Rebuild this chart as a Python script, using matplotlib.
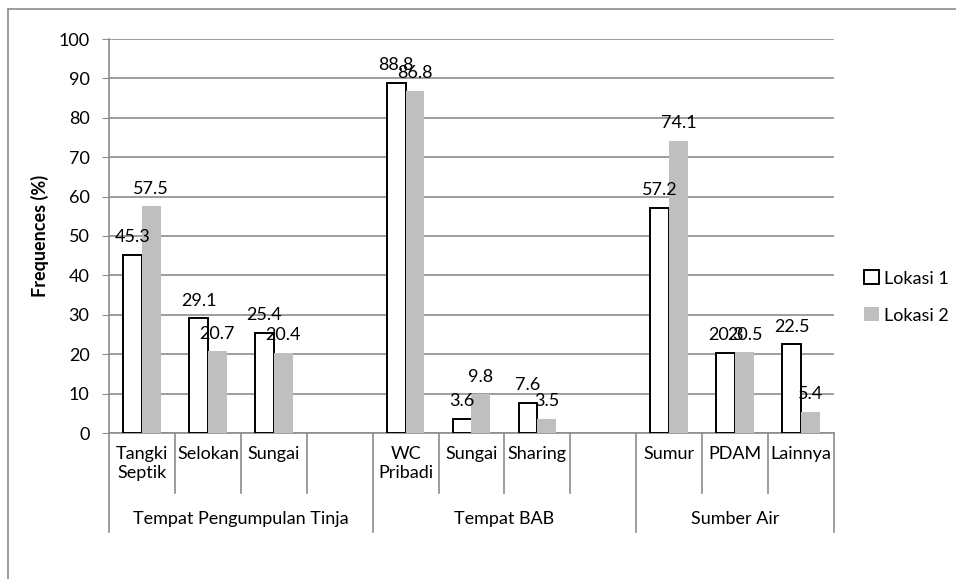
import matplotlib
matplotlib.use('Agg')
import matplotlib.pyplot as plt
from matplotlib.patches import Patch
from matplotlib.lines import Line2D

plt.rcParams['font.family'] = ['Lato', 'DejaVu Sans']

categories = ['Tangki\nSeptik', 'Selokan', 'Sungai', '',
              'WC\nPribadi', 'Sungai', 'Sharing', '',
              'Sumur', 'PDAM', 'Lainnya']
groups = ['Tempat Pengumpulan Tinja', 'Tempat BAB', 'Sumber Air']
group_sizes = [4, 4, 3]
lokasi1 = [45.3, 29.1, 25.4, None, 88.8, 3.6, 7.6, None, 57.2, 20.3, 22.5]
lokasi2 = [57.5, 20.7, 20.4, None, 86.8, 9.8, 3.5, None, 74.1, 20.5, 5.4]
series_names = ['Lokasi 1', 'Lokasi 2']

W, H = 956, 579
fig = plt.figure(figsize=(W / 100, H / 100), dpi=100)

# plot area in pixels
left, right, top, bottom = 109, 834, 39, 433
ax = fig.add_axes([left / W, 1 - bottom / H, (right - left) / W, (bottom - top) / H])
ax_h = bottom - top

grid_col = '#8c8c8c'
bw = 0.285
fs = 13

for i, (a, b) in enumerate(zip(lokasi1, lokasi2)):
    if a is not None:
        ax.bar(i - bw / 2, a, width=bw, color='white', edgecolor='black',
               linewidth=1.4, zorder=3)
        ax.annotate(f'{a}', (i - bw / 2, a), xytext=(0, 7), textcoords='offset points',
                    ha='center', va='bottom', fontsize=fs, zorder=4)
    if b is not None:
        ax.bar(i + bw / 2, b, width=bw, color='#bfbfbf', linewidth=0, zorder=3)
        ax.annotate(f'{b}', (i + bw / 2, b), xytext=(0, 7), textcoords='offset points',
                    ha='center', va='bottom', fontsize=fs, zorder=4)

ax.set_xlim(-0.5, len(categories) - 0.5)
ax.set_ylim(0, 100)
ax.set_yticks(range(0, 101, 10))
ax.yaxis.grid(True, color=grid_col, linewidth=1.2)
ax.set_axisbelow(True)
ax.set_xticks([])
ax.tick_params(axis='y', length=5, color=grid_col, labelsize=fs, pad=9)
for s in ['top', 'right']:
    ax.spines[s].set_visible(False)
for s in ['left', 'bottom']:
    ax.spines[s].set_color(grid_col)
    ax.spines[s].set_linewidth(1.2)

ax.set_ylabel('Frequences (%)', fontsize=fs, fontweight='bold', labelpad=7)

# multi-level category axis
tr = ax.get_xaxis_transform()
minor_end = -(493 - bottom) / ax_h
major_end = -(532 - bottom) / ax_h
major_pos = [0]
for n in group_sizes:
    major_pos.append(major_pos[-1] + n)
for k in range(len(categories) + 1):
    y_end = major_end if k in major_pos else minor_end
    ax.add_line(Line2D([k - 0.5, k - 0.5], [0, y_end], transform=tr,
                       color=grid_col, linewidth=1.2, clip_on=False))
for i, c in enumerate(categories):
    ax.text(i, -(446 - bottom) / ax_h, c, transform=tr, ha='center', va='top',
            fontsize=fs, multialignment='center', linespacing=1.2)
for g, a, b in zip(groups, major_pos[:-1], major_pos[1:]):
    ax.text((a + b - 1) / 2, -(519 - bottom) / ax_h, g, transform=tr,
            ha='center', va='center', fontsize=fs)

handles = [Patch(facecolor='white', edgecolor='black', linewidth=1.4),
           Patch(facecolor='#bfbfbf', edgecolor='none')]
fig.legend(handles, series_names, loc='center left',
           bbox_to_anchor=(848 / W, 1 - 297 / H), frameon=False, fontsize=fs,
           handlelength=0.8, handleheight=0.8, handletextpad=0.3, labelspacing=1.15)

# chart frame (partially cropped)
fig.add_artist(Line2D([8 / W, 1], [1 - 9 / H, 1 - 9 / H], transform=fig.transFigure,
                      color=grid_col, linewidth=1.2))
fig.add_artist(Line2D([8 / W, 8 / W], [0, 1 - 9 / H], transform=fig.transFigure,
                      color=grid_col, linewidth=1.2))

fig.savefig('out.png', dpi=100)
